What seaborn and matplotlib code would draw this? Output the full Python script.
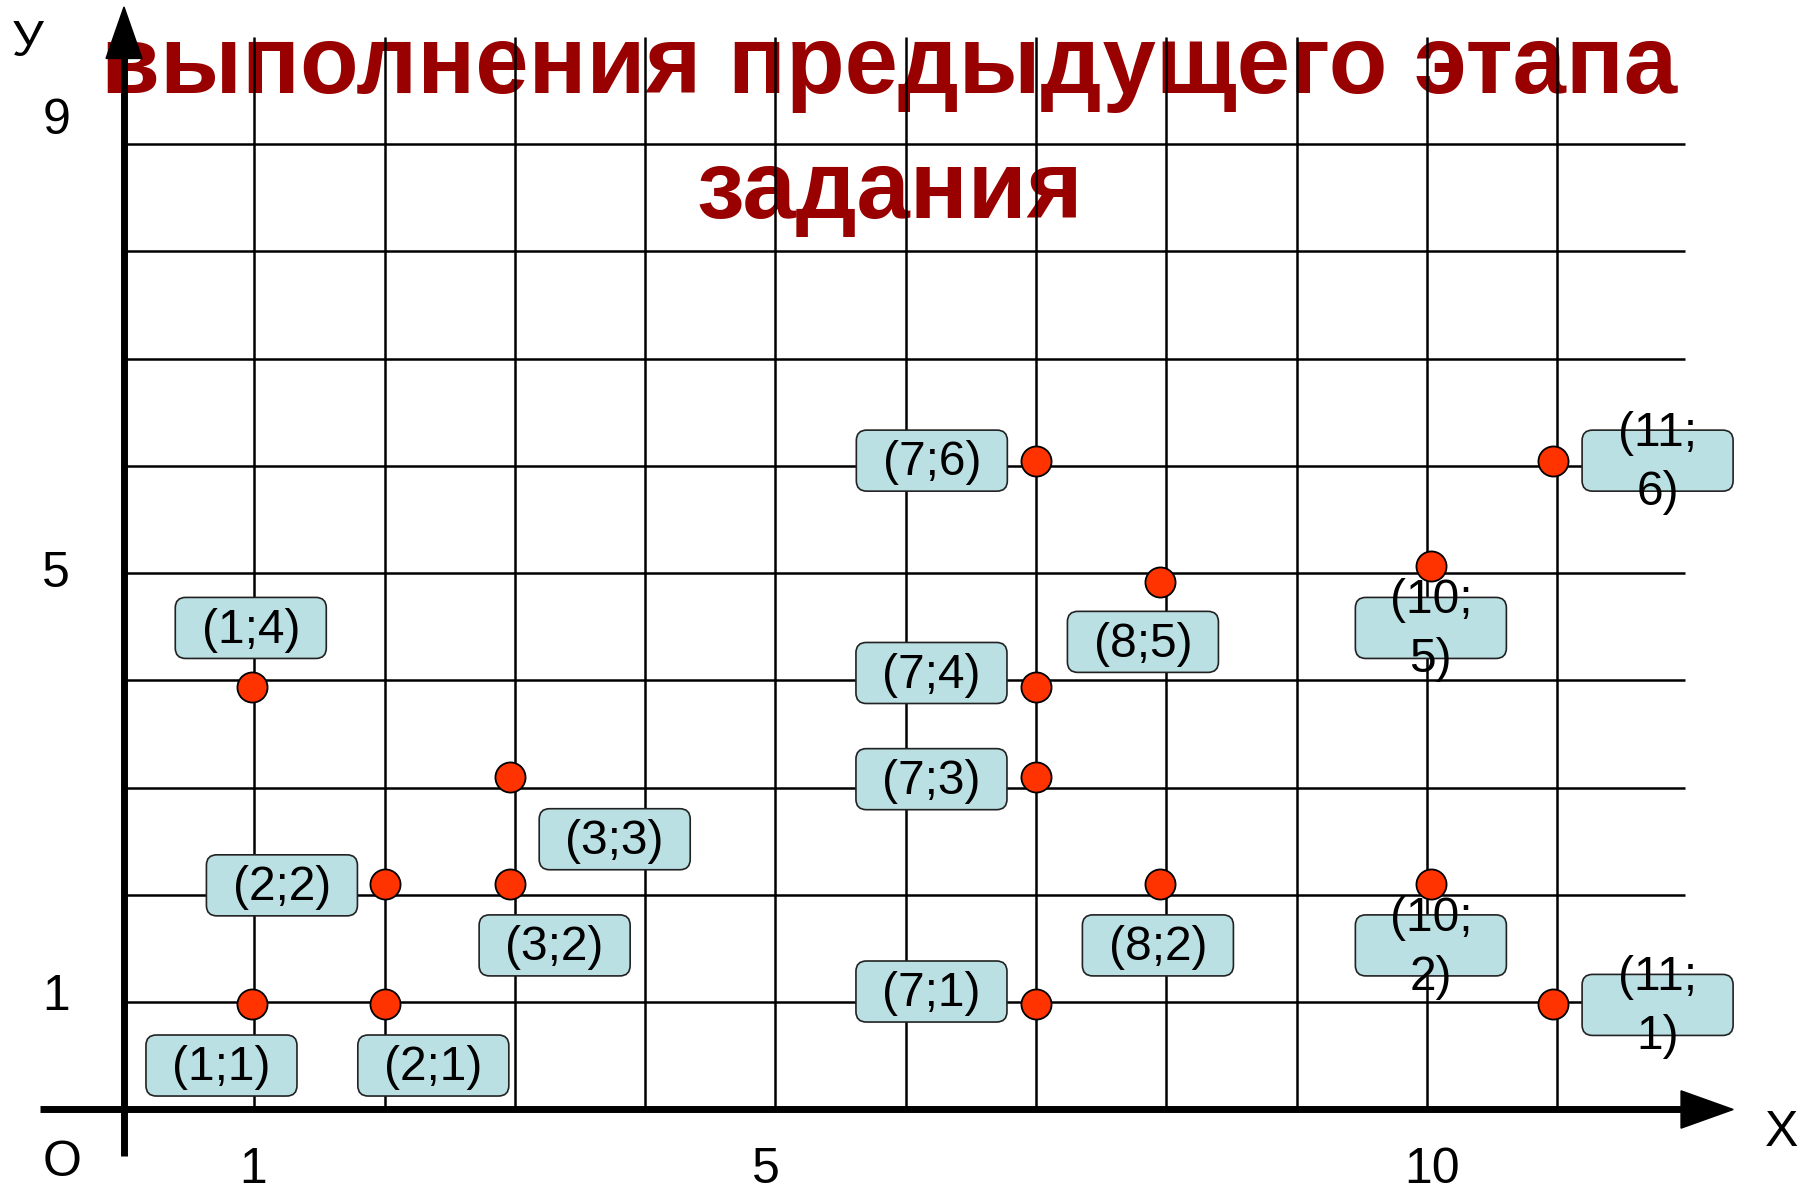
import matplotlib
matplotlib.use("Agg")
import matplotlib.pyplot as plt
from matplotlib.patches import FancyBboxPatch, Polygon
import seaborn as sns
import pandas as pd

# Points as they sit on the slide (a little off the grid nodes in places)
point_x = [0.98, 0.98, 2.0, 2.0, 2.96, 2.96, 7.0, 7.0, 7.0, 7.0, 7.95, 7.95, 10.03, 10.03, 10.97, 10.97]
point_y = [3.94, 0.98, 2.10, 0.98, 3.10, 2.10, 6.05, 3.94, 3.10, 0.98, 4.92, 2.10, 5.07, 2.10, 6.05, 0.98]

# Callout boxes
labels = ["(1;4)", "(1;1)", "(2;2)", "(2;1)", "(3;3)", "(3;2)",
          "(7;6)", "(7;4)", "(7;3)", "(7;1)", "(8;5)", "(8;2)",
          "(10;\n5)", "(10;\n2)", "(11;\n6)", "(11;\n1)"]
label_x = [0.973, 0.748, 1.212, 2.374, 3.766, 3.305,
           6.20, 6.197, 6.197, 6.197, 7.82, 7.935,
           10.03, 10.03, 11.77, 11.77]
label_y = [4.49, 0.41, 2.09, 0.41, 2.52, 1.53,
           6.05, 4.07, 3.08, 1.10, 4.36, 1.53,
           4.49, 1.53, 6.05, 0.975]

# Axis numbering
x_ticks = ["1", "5", "10"]
x_tick_pos = [0.99, 4.93, 10.04]
y_ticks = ["1", "5", "9"]
y_tick_pos = [1.05, 4.99, 9.22]

title_lines = ["выполнения предыдущего этапа", "задания"]

df = pd.DataFrame({"x": point_x, "y": point_y})

sns.set_theme(style="white")
plt.rcParams['font.family'] = ['Liberation Sans', 'DejaVu Sans']

fig = plt.figure(figsize=(18.12, 11.91), dpi=100)
ax = fig.add_axes([0, 0, 1, 1])

# title sits under the grid lines
ax.text(5.875, 9.48, title_lines[0], ha="center", va="baseline", fontsize=69,
        fontweight="bold", color="#990000", zorder=0.5)
ax.text(5.875, 8.31, title_lines[1], ha="center", va="baseline", fontsize=69,
        fontweight="bold", color="#990000", zorder=0.5)

# grid
ax.vlines(range(1, 12), 0, 10.0, color="black", lw=1.8, zorder=1)
ax.hlines(range(1, 10), 0, 11.98, color="black", lw=1.8, zorder=1)

# axes with arrows
ax.plot([-0.645, 11.96], [0, 0], color="black", lw=5, solid_capstyle="butt", zorder=3)
ax.plot([0, 0], [-0.43, 9.82], color="black", lw=5, solid_capstyle="butt", zorder=3)
ax.add_patch(Polygon([[11.95, 0.174], [12.35, 0], [11.95, -0.174]], closed=True,
                     color="black", zorder=3))
ax.add_patch(Polygon([[-0.138, 9.80], [0, 10.28], [0.138, 9.80]], closed=True,
                     color="black", zorder=3))

# axis text
for t, p in zip(x_ticks, x_tick_pos):
    ax.text(p, -0.56, t, ha="center", va="center", fontsize=36, color="black")
for t, p in zip(y_ticks, y_tick_pos):
    ax.text(-0.52, p, t, ha="center", va="center", fontsize=36, color="black")
ax.text(-0.476, -0.50, "O", ha="center", va="center", fontsize=36, color="black")
ax.text(12.72, -0.22, "X", ha="center", va="center", fontsize=36, color="black")
ax.text(-0.737, 9.94, "У", ha="center", va="center", fontsize=36, color="black")

# callouts
box_w, box_h = 1.159, 0.569
for lab, cx, cy in zip(labels, label_x, label_y):
    box = FancyBboxPatch((cx - box_w / 2, cy - box_h / 2), box_w, box_h,
                         boxstyle="round,pad=0,rounding_size=0.08",
                         mutation_aspect=1.215, fc="#BAE0E4", ec="#222222",
                         lw=1.2, zorder=4)
    ax.add_patch(box)
    ax.text(cx, cy - 0.02, lab, ha="center", va="center", fontsize=34.5,
            color="black", linespacing=1.4, zorder=5)

# points
sns.scatterplot(data=df, x="x", y="y", s=470, color="#FF3300",
                edgecolor="black", linewidth=1.3, zorder=6, ax=ax, legend=False)
ax.set_xlim(-0.9517, 12.955)
ax.set_ylim(-0.760, 10.345)
ax.axis("off")

fig.savefig("out.png", dpi=100)
